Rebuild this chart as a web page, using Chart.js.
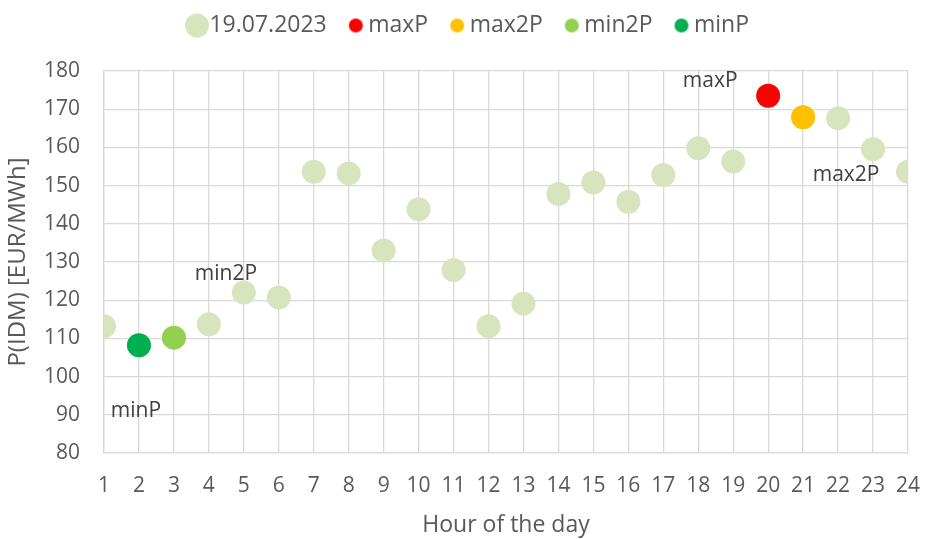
<!DOCTYPE html>
<html>
<head>
<meta charset="utf-8">
<script src="https://cdn.jsdelivr.net/npm/chart.js@4.4.1/dist/chart.umd.min.js"></script>
<style>
  html, body { margin: 0; padding: 0; background: #fff; overflow: hidden; }
  #wrap { width: 927px; height: 539px; position: relative; }
  canvas { display: block; }
</style>
</head>
<body>
<div id="wrap"><canvas id="chart"></canvas></div>
<script>
const hours = [1,2,3,4,5,6,7,8,9,10,11,12,13,14,15,16,17,18,19,20,21,22,23,24];
const prices = [113.2,108.2,110.2,113.7,122.0,120.7,153.6,153.2,133.0,143.8,127.9,113.2,
                119.1,147.8,150.8,145.8,152.8,159.8,156.3,173.5,167.9,167.6,159.5,153.6];
const seriesName = "19.07.2023";
const markers = ["maxP", "max2P", "min2P", "minP"];
const markerHours = [20, 21, 3, 2];
const markerColors = ["#ff0000", "#ffc000", "#92d050", "#00b050"];
const mainColor = "#d8e4bd";
// where each marker's label sits, relative to its point
const labelOffsets = [[-58, -15], [43, 58], [52, -64], [-3, 66]];

const textColor = "#595959";
const gridColor = "#d9d9d9";
const fontFamily = "'Open Sans', Lato, sans-serif";

function dot(color, d) {
  const c = document.createElement("canvas");
  c.width = d + 2;
  c.height = d + 2;
  const g = c.getContext("2d");
  g.fillStyle = color;
  g.beginPath();
  g.arc((d + 2) / 2, (d + 2) / 2, d / 2, 0, Math.PI * 2);
  g.fill();
  return c;
}

const datasets = [{
  label: seriesName,
  data: hours.map((h, i) => ({ x: h, y: prices[i] })),
  backgroundColor: mainColor,
  borderWidth: 0,
  pointRadius: 12,
  pointHoverRadius: 12,
  order: 2,
  legendDot: dot(mainColor, 24),
}];
markers.forEach((name, i) => {
  const h = markerHours[i];
  datasets.push({
    label: name,
    data: [{ x: h, y: prices[hours.indexOf(h)] }],
    backgroundColor: markerColors[i],
    borderWidth: 0,
    pointRadius: 12,
    pointHoverRadius: 12,
    order: 1,
    legendDot: dot(markerColors[i], 14),
  });
});

// fixed legend height, legend nudged right like the original
const legendBox = {
  id: "legendBox",
  beforeInit(chart) {
    const fit = chart.legend.fit;
    chart.legend.fit = function () {
      fit.call(this);
      this.height = 85;
    };
  },
  afterLayout(chart) {
    chart.legend.left += 9;
    chart.legend.right += 9;
  }
};

const markerLabels = {
  id: "markerLabels",
  afterDatasetsDraw(chart) {
    const ctx = chart.ctx;
    ctx.save();
    ctx.font = "21px " + fontFamily;
    ctx.fillStyle = "#404040";
    ctx.textAlign = "center";
    ctx.textBaseline = "middle";
    markers.forEach((name, i) => {
      const pt = chart.getDatasetMeta(i + 1).data[0];
      ctx.fillText(name, pt.x + labelOffsets[i][0], pt.y + labelOffsets[i][1]);
    });
    ctx.restore();
  }
};

new Chart(document.getElementById("chart"), {
  type: "scatter",
  data: { datasets },
  plugins: [legendBox, markerLabels],
  options: {
    responsive: true,
    maintainAspectRatio: false,
    animation: false,
    layout: { padding: { top: -14, right: 0, bottom: 0, left: 0 } },
    plugins: {
      tooltip: { enabled: false },
      legend: {
        position: "top",
        labels: {
          usePointStyle: true,
          boxWidth: 2,
          boxHeight: 14,
          padding: 28,
          color: textColor,
          font: { family: fontFamily, size: 23 },
          generateLabels: chart => chart.data.datasets.map((ds, i) => ({
            text: ds.label,
            pointStyle: ds.legendDot,
            fillStyle: ds.backgroundColor,
            strokeStyle: ds.backgroundColor,
            lineWidth: 0,
            fontColor: textColor,
            hidden: false,
            datasetIndex: i,
          })),
        },
      },
    },
    scales: {
      x: {
        type: "linear",
        min: 1,
        max: 24,
        ticks: {
          stepSize: 1,
          color: textColor,
          padding: 20,
          font: { family: fontFamily, size: 21 },
        },
        grid: { color: gridColor, lineWidth: 1.3, drawTicks: false },
        border: { color: gridColor, width: 1.3 },
        title: {
          display: true,
          text: "Hour of the day",
          color: textColor,
          font: { family: fontFamily, size: 23 },
          padding: { top: 5, bottom: 0 },
        },
        afterFit: s => {
          s.height = 86;
          s.paddingLeft = 0;
          s.paddingRight = 19;
        },
      },
      y: {
        min: 80,
        max: 180,
        ticks: {
          stepSize: 10,
          color: textColor,
          padding: 24,
          font: { family: fontFamily, size: 21 },
        },
        grid: { color: gridColor, lineWidth: 1.3, drawTicks: false },
        border: { color: gridColor, width: 1.3 },
        title: {
          display: true,
          text: "P(IDM) [EUR/MWh]",
          color: textColor,
          font: { family: fontFamily, size: 24 },
          padding: { top: 4, bottom: 0 },
        },
        afterFit: s => { s.width = 104; },
      },
    },
  },
});
</script>
</body>
</html>
